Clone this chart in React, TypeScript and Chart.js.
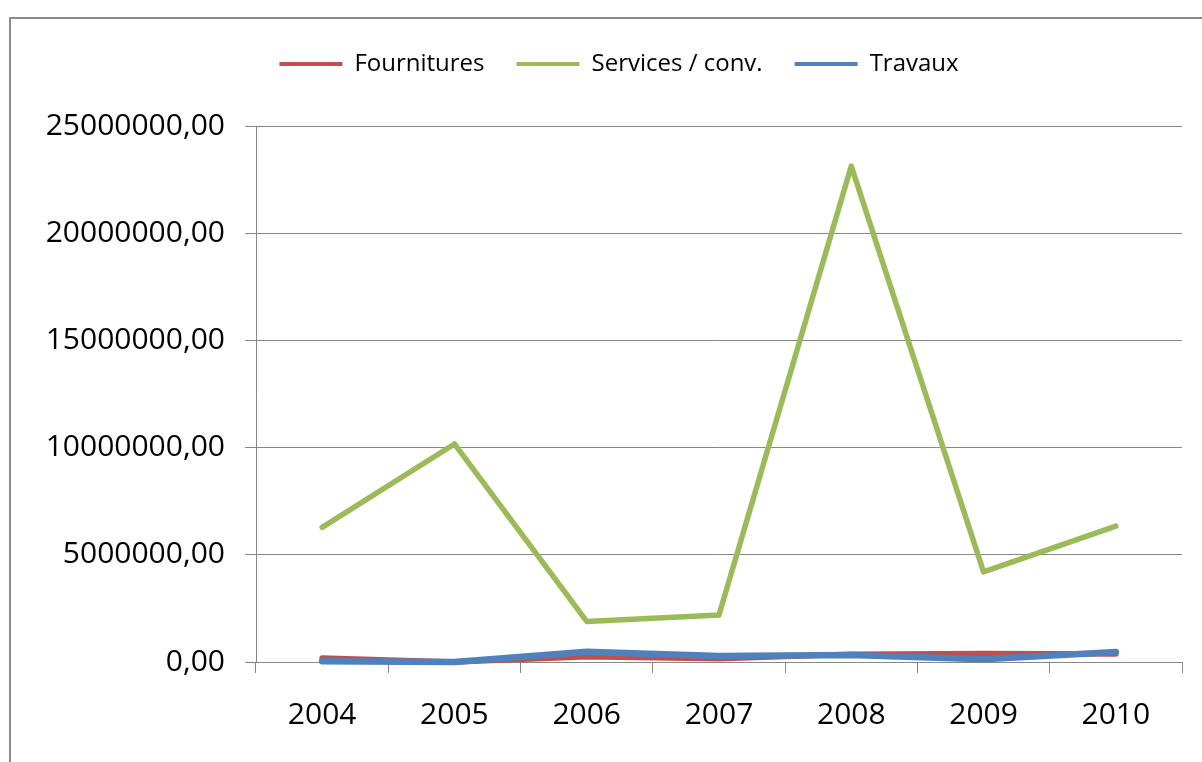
import React, { useEffect, useRef } from "react";
import { Chart, registerables } from "chart.js";

Chart.register(...registerables);

const categories = ["2004", "2005", "2006", "2007", "2008", "2009", "2010"];
const fournitures = [190000, 0, 250000, 150000, 360000, 400000, 370000];
const services = [6280000, 10170000, 1890000, 2190000, 23130000, 4200000, 6340000];
const travaux = [30000, 0, 480000, 280000, 330000, 130000, 470000];
const seriesNames = ["Fournitures", "Services / conv.", "Travaux"];
const yTicks = [0, 5000000, 10000000, 15000000, 20000000, 25000000];

const GRID = "#878787";
const FONT = "'Open Sans', 'DejaVu Sans', sans-serif";

export default function App() {
  const ref = useRef<HTMLCanvasElement | null>(null);

  useEffect(() => {
    const canvas = ref.current;
    if (!canvas) return;
    const legendSpacer = {
      id: "legendSpacer",
      beforeInit(chart: any) {
        const legend = chart.legend;
        if (legend) {
          const orig = legend.fit;
          legend.fit = function () {
            orig.call(this);
            this.height += 40;
          };
        }
      },
    };
    const chart = new Chart(canvas, {
      type: "line",
      data: {
        labels: categories,
        datasets: [
          {
            label: seriesNames[0],
            data: fournitures,
            borderColor: "#C0504D",
            backgroundColor: "#C0504D",
            borderWidth: 5.5,
            order: 2,
          },
          {
            label: seriesNames[1],
            data: services,
            borderColor: "#9BBB59",
            backgroundColor: "#9BBB59",
            borderWidth: 5.5,
            order: 1,
          },
          {
            label: seriesNames[2],
            data: travaux,
            borderColor: "#4F81BD",
            backgroundColor: "#4F81BD",
            borderWidth: 6.5,
            order: 0,
          },
        ],
      },
      options: {
        responsive: false,
        animation: false,
        devicePixelRatio: 1,
        elements: {
          point: { radius: 0, hoverRadius: 0 },
          line: { tension: 0, borderJoinStyle: "round", borderCapStyle: "round" },
        },
        datasets: { line: { clip: false } as any },
        layout: { padding: { top: 1, left: 45, right: 43, bottom: 17 } },
        plugins: {
          tooltip: { enabled: false },
          legend: {
            position: "top",
            align: "center",
            labels: {
              usePointStyle: true,
              pointStyle: "line",
              pointStyleWidth: 63,
              padding: 32,
              color: "#000",
              font: { family: FONT, size: 24 },
              sort: (a: any, b: any) => a.datasetIndex - b.datasetIndex,
              generateLabels: (c: any) =>
                (Chart as any).defaults.plugins.legend.labels
                  .generateLabels(c)
                  .map((l: any) => ({ ...l, lineWidth: 4, pointStyle: "line" })),
            },
          },
        },
        scales: {
          x: {
            type: "category",
            offset: true,
            afterFit: (s: any) => {
              s.height = 100;
            },
            grid: {
              display: true,
              offset: true,
              drawOnChartArea: false,
              drawTicks: true,
              tickLength: 11,
              color: GRID,
              lineWidth: 1,
            },
            border: { display: true, color: GRID, width: 1 },
            ticks: {
              color: "#000",
              padding: 24,
              maxRotation: 0,
              autoSkip: false,
              font: { family: FONT, size: 30 },
            },
          },
          y: {
            min: 0,
            max: 25000000,
            afterFit: (s: any) => {
              s.width = 200;
              s._computeLabelArea = () => undefined;
            },
            afterBuildTicks: (s: any) => {
              s.ticks = yTicks.map((v) => ({ value: v }));
            },
            grid: {
              color: GRID,
              lineWidth: 1,
              drawTicks: true,
              tickLength: 11,
            },
            border: { display: true, color: GRID, width: 1 },
            ticks: {
              color: "#000",
              padding: 20,
              font: { family: FONT, size: 30 },
              callback: (v: any) => Number(v).toFixed(2).replace(".", ","),
            },
          },
        },
      },
      plugins: [legendSpacer],
    });
    return () => chart.destroy();
  }, []);

  return (
    <div style={{ position: "fixed", left: 0, top: 0, right: 0, bottom: 0, overflow: "hidden", background: "#fff" }}>
      <div
        style={{
          position: "absolute",
          left: 9,
          top: 17,
          border: "2px solid #8c8c8c",
          width: 1214,
          height: 760,
          background: "#fff",
        }}
      >
        <canvas ref={ref} width={1214} height={760} style={{ display: "block", width: 1214, height: 760 }} />
      </div>
    </div>
  );
}
